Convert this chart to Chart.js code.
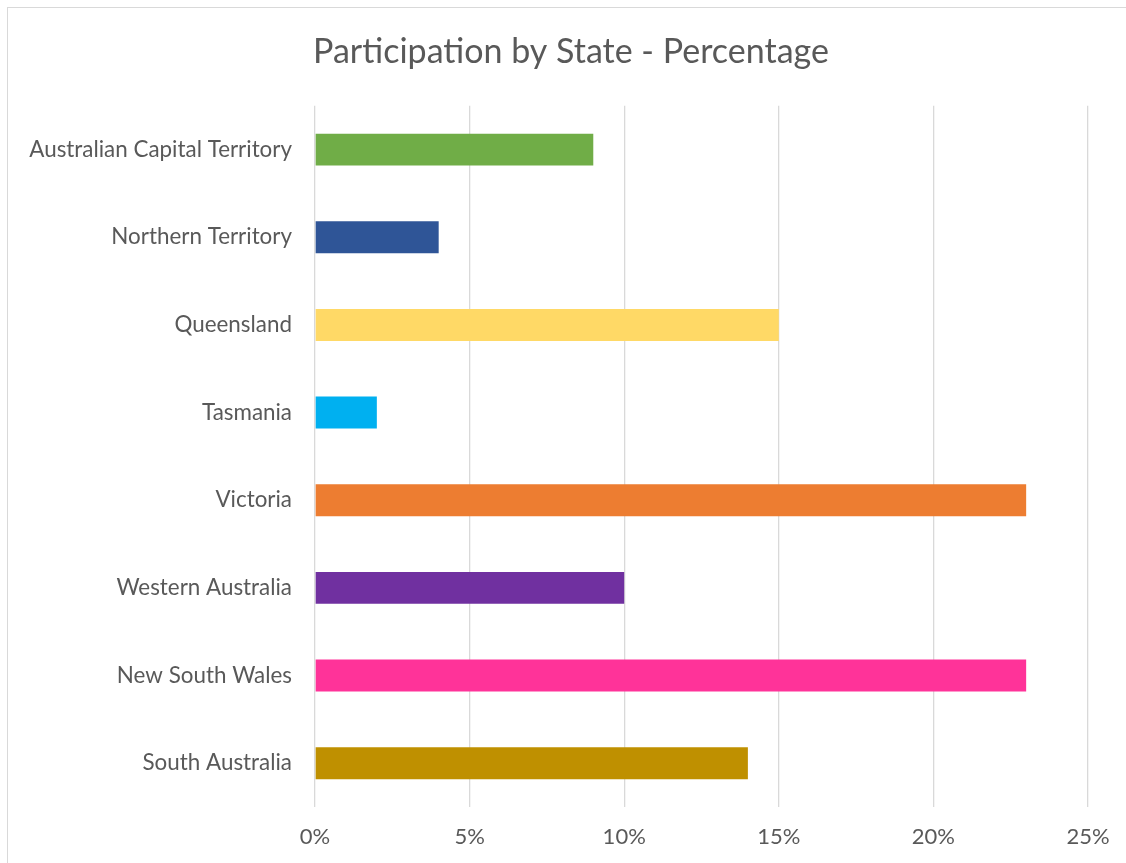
<!DOCTYPE html>
<html>
<head>
<meta charset="utf-8">
<script src="https://cdn.jsdelivr.net/npm/chart.js@4/dist/chart.umd.min.js"></script>
<style>
  html, body { margin: 0; padding: 0; overflow: hidden; background: #fff; }
  #box { position: absolute; left: 7px; top: 7px; width: 1126px; height: 870px; border: 1px solid #d9d9d9; }
  canvas { display: block; }
</style>
</head>
<body>
<div id="box"><canvas id="chart" width="1126" height="855"></canvas></div>
<script>
const states = [
  "Australian Capital Territory",
  "Northern Territory",
  "Queensland",
  "Tasmania",
  "Victoria",
  "Western Australia",
  "New South Wales",
  "South Australia",
];
const participation = [9, 4, 15, 2, 23, 10, 23, 14];
const barColours = ["#70AD47", "#2F5597", "#FFD966", "#00B0F0", "#ED7D31", "#7030A0", "#FF3399", "#BF9000"];

const font = "Lato, 'Open Sans', sans-serif";
const grey = "#595959";

const ctx = document.getElementById("chart").getContext("2d");
new Chart(ctx, {
  type: "bar",
  data: {
    labels: states,
    datasets: [{
      data: participation,
      backgroundColor: barColours,
      categoryPercentage: 0.365,
      barPercentage: 1,
    }],
  },
  options: {
    indexAxis: "y",
    responsive: false,
    animation: false,
    layout: { padding: 0 },
    plugins: {
      legend: { display: false },
      tooltip: { enabled: false },
      title: {
        display: true,
        text: "Participation by State - Percentage",
        color: grey,
        font: { family: font, size: 34, weight: "normal" },
        padding: { top: 24, bottom: 33 },
      },
    },
    scales: {
      x: {
        min: 0,
        max: 25,
        ticks: {
          stepSize: 5,
          color: grey,
          font: { family: font, size: 22 },
          padding: 17,
          callback: (v) => v + "%",
        },
        grid: { color: "#d9d9d9", lineWidth: 1.3, drawTicks: false },
        border: { display: false },
        afterFit: (s) => { s.height = 56; },
      },
      y: {
        ticks: {
          color: grey,
          font: { family: font, size: 22.4 },
          padding: 23,
        },
        grid: { display: false, drawTicks: false },
        border: { display: false },
        afterFit: (s) => { s.width = 307; },
      },
      // empty right-hand margin so the title stays centred on the whole box
      spacer: {
        axis: "y",
        position: "right",
        ticks: { display: false },
        grid: { display: false, drawTicks: false },
        border: { display: false },
        afterFit: (s) => { s.width = 46; },
      },
    },
  },
});
</script>
</body>
</html>
